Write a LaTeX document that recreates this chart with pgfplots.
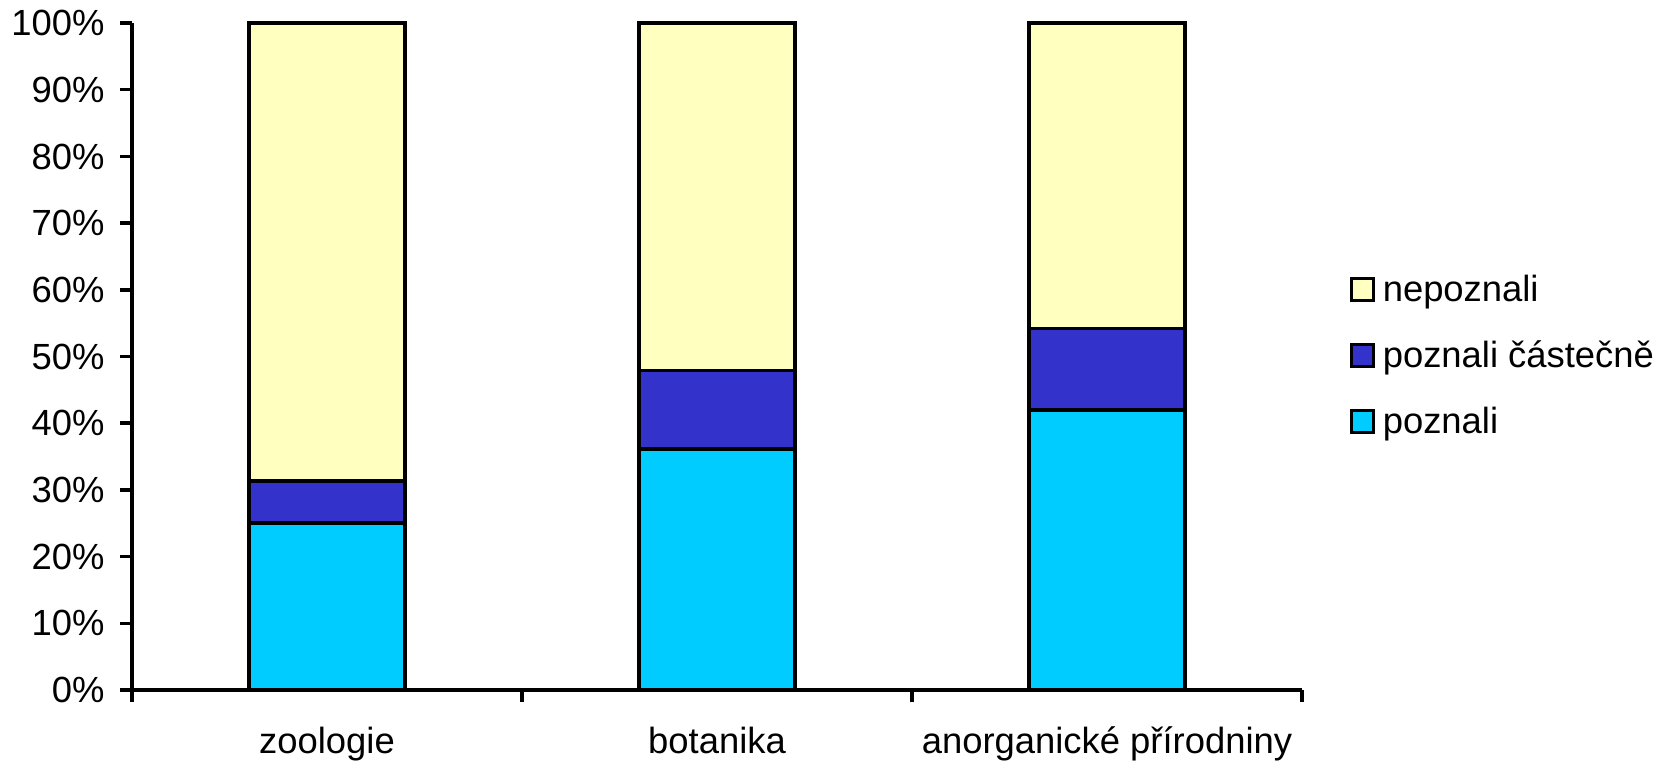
\documentclass[border=0pt]{standalone}
\usepackage{fontspec}
\setmainfont{Liberation Sans}
\usepackage{pgfplots}
\pgfplotsset{compat=1.18}

\definecolor{cpoznali}{HTML}{00CCFF}
\definecolor{ccastecne}{HTML}{3333CC}
\definecolor{cnepoznali}{HTML}{FFFFC0}

\begin{document}
\begin{tikzpicture}
% 1 px of the reference = 0.5pt
\useasboundingbox (-66pt,-35.5pt) rectangle (772.5pt,345pt);
\begin{axis}[
    at={(0,0)}, anchor=south west,
    scale only axis,
    width=585pt, height=333.5pt,
    xmin=0, xmax=3, ymin=0, ymax=100,
    clip=false,
    axis lines=left,
    axis line style={-, line width=1.8pt, black},
    ybar stacked, bar width=0.4,
    font=\fontsize{18.2}{22}\selectfont,
    tick align=outside,
    major tick length=6pt,
    tick style={line width=1.8pt, black},
    xtick={0,1,2,3}, xticklabels={},
    extra x ticks={0.5,1.5,2.5},
    extra x tick labels={zoologie,botanika,anorganické přírodniny},
    extra x tick style={major tick length=0pt},
    xticklabel style={inner sep=0pt, text height=12pt, text depth=4pt, anchor=north, yshift=-19.5pt},
    ytick={0,10,...,100},
    yticklabels={0\%,10\%,20\%,30\%,40\%,50\%,60\%,70\%,80\%,90\%,100\%},
    yticklabel style={inner sep=0pt, anchor=base east, xshift=-7.5pt, yshift=-6.3pt},
    legend cell align=left,
    legend style={draw=none, fill=none, inner sep=0pt, outer sep=0pt,
        at={(axis description cs:1.041,0.630)}, anchor=north west,
        row sep=13pt, column sep=4pt,
        nodes={inner sep=0pt, text height=16pt, text depth=4pt},
        font=\fontsize{18.2}{22}\selectfont},
    reverse legend,
    bx/.style={draw=black, line width=1.8pt,
        legend image code/.code={\draw[##1, line width=1.4pt] (0pt,-5.5pt) rectangle (11pt,5.5pt);}},
]
\addplot[bx, fill=cpoznali] coordinates {(0.5,25.0) (1.5,36.1) (2.5,42.0)};
\addplot[bx, fill=ccastecne] coordinates {(0.5,6.3) (1.5,11.8) (2.5,12.2)};
\addplot[bx, fill=cnepoznali] coordinates {(0.5,68.7) (1.5,52.1) (2.5,45.8)};
\legend{poznali, poznali částečně, nepoznali}
\end{axis}
\end{tikzpicture}
\end{document}
